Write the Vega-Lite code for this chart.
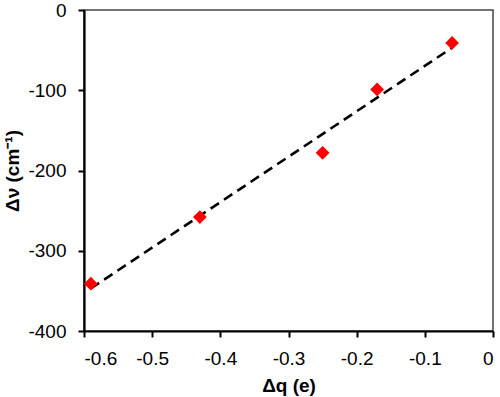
{
  "$schema": "https://vega.github.io/schema/vega-lite/v6.json",
  "width": 409,
  "height": 321,
  "autosize": {"type": "none"},
  "padding": {"left": 84, "top": 10, "right": 7, "bottom": 66},
  "background": "white",
  "config": {
    "view": {"stroke": "#444444", "strokeWidth": 1.5},
    "axis": {
      "grid": false,
      "domainColor": "black",
      "domainWidth": 2.2,
      "tickColor": "black",
      "tickWidth": 2,
      "tickSize": 6,
      "labelFont": "Liberation Sans",
      "labelFontSize": 19,
      "labelColor": "black",
      "titleFont": "Liberation Sans",
      "titleFontSize": 19,
      "titleFontWeight": "bold",
      "titleColor": "black"
    }
  },
  "datasets": {
    "pts": [
      {"dq": -0.59, "dv": -341},
      {"dq": -0.43, "dv": -258},
      {"dq": -0.25, "dv": -178},
      {"dq": -0.17, "dv": -99},
      {"dq": -0.06, "dv": -41}
    ],
    "fit": [
      {"dq": -0.59, "dv": -347},
      {"dq": -0.06, "dv": -47}
    ]
  },
  "layer": [
    {
      "data": {"name": "fit"},
      "mark": {"type": "line", "color": "black", "strokeWidth": 2.6, "strokeDash": [10, 6]},
      "encoding": {
        "x": {"field": "dq", "type": "quantitative"},
        "y": {"field": "dv", "type": "quantitative"}
      }
    },
    {
      "data": {"name": "pts"},
      "mark": {"type": "point", "shape": "diamond", "filled": true, "color": "#ff0000", "opacity": 1, "size": 190},
      "encoding": {
        "x": {
          "field": "dq", "type": "quantitative",
          "scale": {"domain": [-0.6, 0], "nice": false, "zero": false},
          "axis": {"values": [-0.6, -0.5, -0.4, -0.3, -0.2, -0.1, 0], "format": ".1~f", "labelExpr": "replace(datum.label, '−', '-')", "labelPadding": 12, "title": "Δq (e)", "titlePadding": 8}
        },
        "y": {
          "field": "dv", "type": "quantitative",
          "scale": {"domain": [-400, 0], "nice": false},
          "axis": {"values": [-400, -300, -200, -100, 0], "labelExpr": "replace(datum.label, '−', '-')", "labelPadding": 12, "title": "Δν (cm⁻¹)", "titlePadding": 5}
        }
      }
    }
  ]
}
